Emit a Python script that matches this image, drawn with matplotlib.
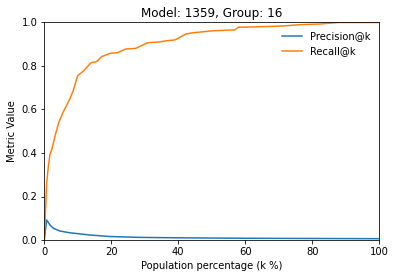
import matplotlib
matplotlib.use("Agg")
import matplotlib.pyplot as plt

# values
recall_k = [0, 0.2, 0.4, 0.7, 1.2, 1.7, 2.2, 3.4, 4.4, 5.7, 7.7, 8.7, 9.9, 11.9,
            13.9, 15.6, 17.1, 19.6, 21.8, 24.3, 27.3, 30.8, 34.0, 36.5, 39.0, 40.5,
            42.2, 44.5, 50.4, 56.9, 57.9, 65.4, 71.3, 76.3, 82.3, 86.8, 88.0, 100.0]
recall = [0, 0.08, 0.15, 0.26, 0.337, 0.395, 0.414, 0.49, 0.544, 0.59, 0.651, 0.69,
          0.754, 0.78, 0.815, 0.82, 0.843, 0.858, 0.861, 0.878, 0.881, 0.907, 0.910,
          0.916, 0.92, 0.932, 0.947, 0.953, 0.962, 0.966, 0.978, 0.981, 0.984, 0.99,
          0.993, 0.999, 1.0, 1.0]

precision_k = [0, 0.7, 1.7, 2.7, 4.7, 7.7, 10.7, 13.6, 19.6, 28.6, 40.6, 60, 80, 100]
precision = [0, 0.092, 0.069, 0.054, 0.041, 0.033, 0.028, 0.023, 0.016, 0.012,
             0.010, 0.008, 0.007, 0.006]

W, H = 395, 278
fig = plt.figure(figsize=(W / 72, H / 72), dpi=72)
ax = fig.add_axes([44.3 / W, (H - 240) / H, (379.3 - 44.3) / W, (240 - 22.5) / H])

ax.plot(precision_k, precision, label="Precision@k")
ax.plot(recall_k, recall, label="Recall@k")

ax.set_xlim(0, 100)
ax.set_ylim(0, 1)
ax.set_xlabel("Population percentage (k %)")
ax.set_ylabel("Metric Value")
ax.set_title("Model: 1359, Group: 16")
ax.legend(loc="upper right", frameon=False)

fig.savefig("out.png", dpi=72)
